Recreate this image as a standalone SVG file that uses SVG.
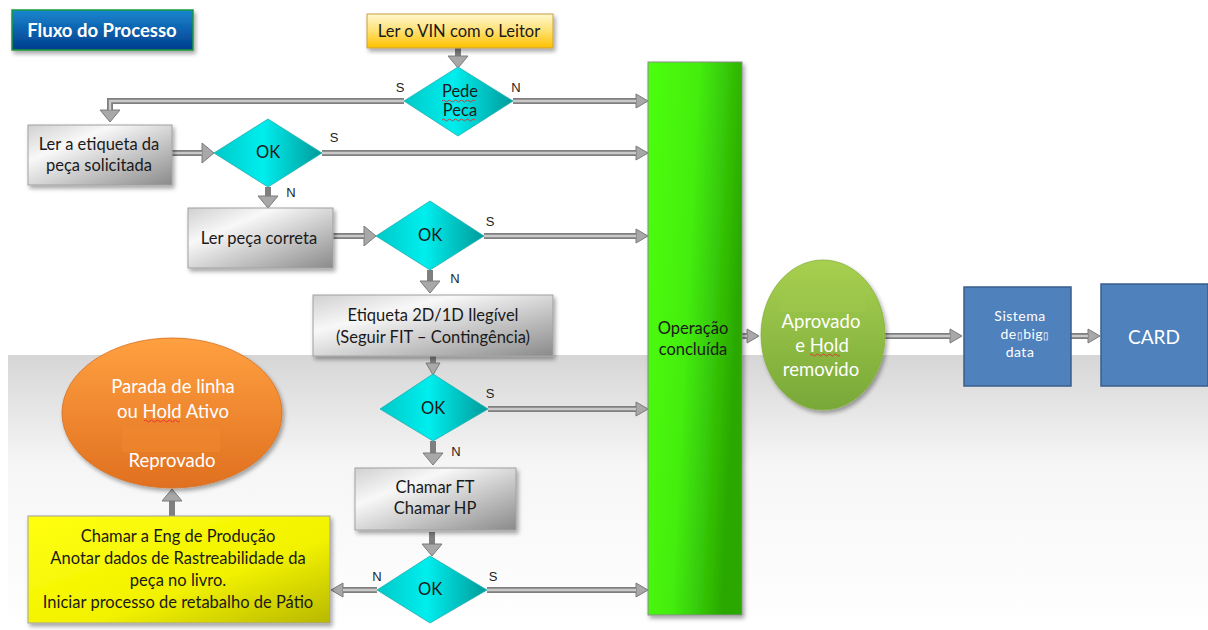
<svg xmlns="http://www.w3.org/2000/svg" width="1208" height="630" viewBox="0 0 1208 630">
<defs>
<style>
text{font-family:Lato,"Liberation Sans",sans-serif;text-anchor:middle}
.t{font-size:16.5px;fill:#1a1a1a}
.w{font-size:18.5px;fill:#ffffff}
.lb{font-size:13px;fill:#222;font-family:"Liberation Sans",sans-serif}
.gbox{fill:url(#gGray);stroke:#a0a0a0;stroke-width:1;filter:url(#sh)}
.dia{fill:url(#gCyan);stroke:#20b0b0;stroke-width:0.8}
.co{fill:none;stroke:#7f7f7f;stroke-width:6}
.ci{fill:none;stroke:#c9c9c9;stroke-width:2.4}
.wav{fill:none;stroke:#e03030;stroke-width:0.9}
</style>
<filter id="sh" x="-10%" y="-10%" width="130%" height="130%"><feDropShadow dx="2" dy="3" stdDeviation="2" flood-color="#000" flood-opacity="0.35"/></filter>
<linearGradient id="gBg" x1="0" y1="0" x2="0" y2="1"><stop offset="0" stop-color="#d6d6d6"/><stop offset="0.4" stop-color="#f6f6f6"/><stop offset="1" stop-color="#ffffff"/></linearGradient>
<linearGradient id="gGray" x1="0" y1="0" x2="1" y2="1"><stop offset="0" stop-color="#d0d0d0"/><stop offset="0.3" stop-color="#f8f8f8"/><stop offset="1" stop-color="#8a8a8a"/></linearGradient>
<linearGradient id="gCyan" x1="0" y1="0" x2="1" y2="0"><stop offset="0" stop-color="#00c8c8"/><stop offset="0.45" stop-color="#00eeee"/><stop offset="1" stop-color="#009a9a"/></linearGradient>
<linearGradient id="gVin" x1="0" y1="0" x2="0" y2="1"><stop offset="0" stop-color="#fff8d0"/><stop offset="0.5" stop-color="#ffe070"/><stop offset="1" stop-color="#ffc000"/></linearGradient>
<linearGradient id="gYel" x1="0" y1="0" x2="1" y2="1"><stop offset="0" stop-color="#ffff10"/><stop offset="0.6" stop-color="#f2f200"/><stop offset="1" stop-color="#b8b800"/></linearGradient>
<linearGradient id="gOra" x1="0" y1="0" x2="0" y2="1"><stop offset="0" stop-color="#ffa040"/><stop offset="1" stop-color="#e07020"/></linearGradient>
<linearGradient id="gGc" x1="0" y1="0" x2="0" y2="1"><stop offset="0" stop-color="#a8d050"/><stop offset="1" stop-color="#78a838"/></linearGradient>
<linearGradient id="gBar" x1="0" y1="0" x2="1" y2="0.3"><stop offset="0" stop-color="#4cff10"/><stop offset="0.5" stop-color="#44ee10"/><stop offset="1" stop-color="#2aa800"/></linearGradient>
<linearGradient id="gTit" x1="0" y1="0" x2="0" y2="1"><stop offset="0" stop-color="#1a86d0"/><stop offset="1" stop-color="#003d8c"/></linearGradient>
<marker id="ah" markerUnits="userSpaceOnUse" markerWidth="16" markerHeight="18" refX="1" refY="8" orient="auto"><path d="M1,1 L13,8 L1,15 Z" fill="#a8a8a8" stroke="#7a7a7a" stroke-width="1"/></marker>
<marker id="ahb" markerUnits="userSpaceOnUse" markerWidth="22" markerHeight="22" refX="1" refY="11" orient="auto"><path d="M1,1 L13,11 L1,21 Z" fill="#a8a8a8" stroke="#7a7a7a" stroke-width="1"/></marker>
</defs>

<rect x="0" y="0" width="1208" height="630" fill="#ffffff"/>
<rect x="8" y="355" width="1200" height="275" fill="url(#gBg)"/>

<g id="connectors">
<path class="co" d="M404,101 H110 V110" marker-end="url(#ahb)"/>
<path class="ci" d="M404,101 H110 V110"/>
<path class="co" d="M513,101 H636" marker-end="url(#ah)"/>
<path class="ci" d="M513,101 H636"/>
<path class="co" d="M458,48 V56" marker-end="url(#ahb)" stroke-width="8"/>
<path class="co" d="M172,153 H202" marker-end="url(#ahb)"/>
<path class="ci" d="M172,153 H202"/>
<path class="co" d="M322,153 H636" marker-end="url(#ah)"/>
<path class="ci" d="M322,153 H636"/>
<path class="co" d="M268,187 V196" marker-end="url(#ahb)"/>
<path class="co" d="M333,236 H364" marker-end="url(#ahb)"/>
<path class="ci" d="M333,236 H364"/>
<path class="co" d="M484,236 H636" marker-end="url(#ah)"/>
<path class="ci" d="M484,236 H636"/>
<path class="co" d="M430,270 V281" marker-end="url(#ahb)"/>
<path class="co" d="M433,356 V363" stroke-width="3" marker-end="url(#ah)"/>
<path class="co" d="M488,409 H636" marker-end="url(#ah)"/>
<path class="ci" d="M488,409 H636"/>
<path class="co" d="M433,441 V453" marker-end="url(#ahb)"/>
<path class="co" d="M432,532 V544" marker-end="url(#ahb)"/>
<path class="co" d="M487,590 H636" marker-end="url(#ah)"/>
<path class="ci" d="M487,590 H636"/>
<path class="co" d="M377,590 H343" marker-end="url(#ah)"/>
<path class="ci" d="M377,590 H343"/>
<path class="co" d="M172,516 V501" stroke-width="8" marker-end="url(#ahb)"/>
<path class="co" d="M742,336 H747" marker-end="url(#ah)"/>
<path class="ci" d="M742,336 H747"/>
<path class="co" d="M885,336 H950" marker-end="url(#ah)"/>
<path class="ci" d="M885,336 H950"/>
<path class="co" d="M1071,336 H1088" marker-end="url(#ah)"/>
<path class="ci" d="M1071,336 H1088"/>
</g>

<g id="title">
<rect x="12" y="10" width="181" height="40" fill="url(#gTit)" stroke="#1a9a3a" stroke-width="1.5" filter="url(#sh)"/>
<text x="102" y="37" font-size="18.5" font-weight="bold" fill="#fff">Fluxo do Processo</text>
</g>

<g id="vin">
<rect x="367" y="14" width="186" height="34" fill="url(#gVin)" stroke="#c8a040" stroke-width="1" filter="url(#sh)"/>
<text class="t" x="459" y="37">Ler o VIN com o Leitor</text>
</g>

<g id="pedePeca">
<polygon class="dia" points="458,67 513,101 458,136 404,101"/>
<text class="t" x="460" y="97" font-size="15">Pede</text>
<text class="t" x="460" y="116" font-size="15">Peca</text>
<path class="wav" d="M442,101 q1.5,-2 3,0 t3,0 t3,0 t3,0 t3,0 t3,0 t3,0 t3,0 t3,0 t3,0 t3,0"/>
<path class="wav" d="M442,120 q1.5,-2 3,0 t3,0 t3,0 t3,0 t3,0 t3,0 t3,0 t3,0 t3,0 t3,0 t3,0"/>
<text class="lb" x="400" y="92">S</text>
<text class="lb" x="516" y="92">N</text>
</g>

<g id="lerEtiqueta">
<rect class="gbox" x="28" y="125" width="144" height="60"/>
<text class="t" x="99" y="150">Ler a etiqueta da</text>
<text class="t" x="99" y="171">peça solicitada</text>
</g>

<g id="ok1">
<polygon class="dia" points="268,119 322,153 268,187 214,153"/>
<text class="t" x="268" y="158" font-size="14">OK</text>
<text class="lb" x="334" y="142">S</text>
<text class="lb" x="291" y="197">N</text>
</g>

<g id="lerCorreta">
<rect class="gbox" x="188" y="208" width="145" height="60"/>
<text class="t" x="259" y="244">Ler peça correta</text>
</g>

<g id="ok2">
<polygon class="dia" points="430,201 484,236 430,270 376,236"/>
<text class="t" x="430" y="241" font-size="14">OK</text>
<text class="lb" x="490" y="226">S</text>
<text class="lb" x="455" y="283">N</text>
</g>

<g id="etiqueta2d">
<rect class="gbox" x="313" y="295" width="240" height="61"/>
<text class="t" x="433" y="321">Etiqueta 2D/1D Ilegível</text>
<text class="t" x="433" y="343">(Seguir FIT – Contingência)</text>
</g>

<g id="ok3">
<polygon class="dia" points="433,374 488,409 433,441 380,409"/>
<text class="t" x="433" y="414" font-size="14">OK</text>
<text class="lb" x="490" y="398">S</text>
<text class="lb" x="456" y="456">N</text>
</g>

<g id="chamarFT">
<rect class="gbox" x="355" y="468" width="161" height="62"/>
<text class="t" x="435" y="493">Chamar FT</text>
<text class="t" x="435" y="514">Chamar HP</text>
</g>

<g id="ok4">
<polygon class="dia" points="430,556 487,590 430,623 377,590"/>
<text class="t" x="430" y="595" font-size="14">OK</text>
<text class="lb" x="493" y="581">S</text>
<text class="lb" x="377" y="581">N</text>
</g>

<g id="chamarEng">
<rect x="28" y="516" width="302" height="107" fill="url(#gYel)" stroke="#a0a0a0" stroke-width="1" filter="url(#sh)"/>
<text class="t" x="178" y="542" font-size="15.5">Chamar a Eng de Produção</text>
<text class="t" x="178" y="564" font-size="15.5">Anotar dados de Rastreabilidade da</text>
<text class="t" x="178" y="586" font-size="15.5">peça no livro.</text>
<text class="t" x="178" y="608" font-size="15.5">Iniciar processo de retabalho de Pátio</text>
</g>

<g id="parada">
<ellipse cx="172" cy="413" rx="110" ry="75" fill="url(#gOra)" stroke="#d87020" stroke-width="0.8" filter="url(#sh)"/>
<rect x="122" y="428" width="98" height="24" fill="#f08a30" opacity="0.5"/>
<text class="w" x="173" y="393">Parada de linha</text>
<text class="w" x="173" y="418">ou Hold Ativo</text>
<path class="wav" d="M144,421 q1.5,-2 3,0 t3,0 t3,0 t3,0 t3,0 t3,0 t3,0 t3,0 t3,0 t3,0 t3,0 t3,0"/>
<text class="w" x="172" y="467">Reprovado</text>
</g>

<g id="operacao">
<rect x="648" y="62" width="94" height="553" fill="url(#gBar)" stroke="#8a8a8a" stroke-width="1" filter="url(#sh)"/>
<text class="t" x="693" y="334">Operação</text>
<text class="t" x="693" y="355">concluída</text>
</g>

<g id="aprovado">
<ellipse cx="823" cy="335" rx="62" ry="75" fill="url(#gGc)" stroke="#88b040" stroke-width="0.8" filter="url(#sh)"/>
<rect x="780" y="287" width="85" height="25" fill="#9cc84c" opacity="0.6"/>
<text class="w" x="821" y="328" font-size="16">Aprovado</text>
<text class="w" x="822" y="352" font-size="16">e Hold</text>
<path class="wav" d="M810,355 q1.5,-2 3,0 t3,0 t3,0 t3,0 t3,0 t3,0 t3,0 t3,0 t3,0 t3,0"/>
<text class="w" x="821" y="376" font-size="16">removido</text>
</g>

<g id="bigdata">
<rect x="964" y="287" width="107" height="99" fill="#4f81bd" stroke="#385d8a" stroke-width="1.5"/>
<text x="1020" y="321" font-size="14" letter-spacing="0.5" fill="#fff">Sistema</text>
<text x="1025" y="339" font-size="14" letter-spacing="0.5" fill="#fff">de<tspan font-size="10">▯</tspan>big<tspan font-size="10">▯</tspan></text>
<text x="1020" y="357" font-size="14" letter-spacing="0.5" fill="#fff">data</text>
</g>

<g id="card">
<rect x="1101" y="284" width="107" height="102" fill="#4f81bd" stroke="#385d8a" stroke-width="1.5"/>
<text x="1154" y="344" font-size="19" fill="#fff">CARD</text>
</g>
</svg>
